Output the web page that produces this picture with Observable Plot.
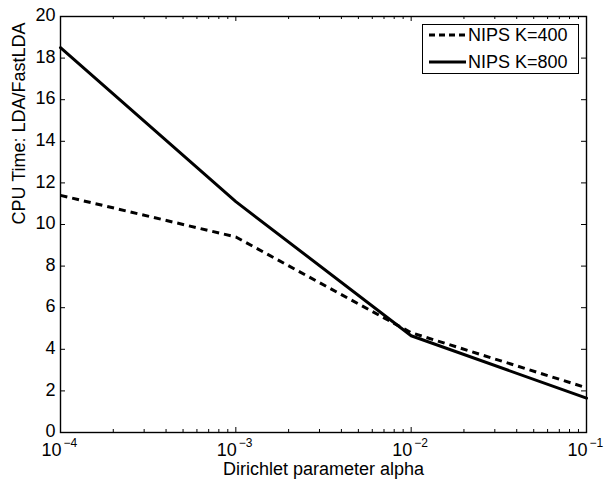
<!DOCTYPE html>
<html><head><meta charset="utf-8">
<script src="https://cdn.jsdelivr.net/npm/d3@7"></script>
<script src="https://cdn.jsdelivr.net/npm/@observablehq/plot@0.6"></script>
<style>
body{margin:0;background:#fff;font-family:"Liberation Sans",Arial,sans-serif;}
#wrap{position:relative;width:605px;height:483px;}
#legend{position:absolute;left:422px;top:24px;width:157px;height:50px;border:1.3px solid #000;background:#fff;box-sizing:border-box;font-size:18px;}
#legend .row{position:absolute;left:6px;height:20px;display:flex;align-items:center;}
#legend svg{display:block;}
#legend span{margin-left:2px;line-height:20px;}
</style></head><body><div id="wrap"></div>
<script>
const alpha = [1e-4, 1e-3, 1e-2, 1e-1];
const seriesNames = ["NIPS K=400", "NIPS K=800"];
const k400 = [11.4, 9.4, 4.8, 2.15];
const k800 = [18.5, 11.1, 4.65, 1.65];
const yTicks = [0, 2, 4, 6, 8, 10, 12, 14, 16, 18, 20];
const xMajor = [1e-4, 1e-3, 1e-2, 1e-1];
const xExponents = ["\u22124", "\u22123", "\u22122", "\u22121"];
const xLabel = "Dirichlet parameter alpha";
const yLabel = "CPU Time: LDA/FastLDA";

const xMinor = [];
for (const d of [1e-4, 1e-3, 1e-2]) for (let m = 2; m <= 9; m++) xMinor.push(d * m);

const rows400 = alpha.map((a, i) => ({alpha: a, value: k400[i]}));
const rows800 = alpha.map((a, i) => ({alpha: a, value: k800[i]}));

const W = 605, H = 483, mL = 60, mR = 19, mT = 16, mB = 51;
const pw = W - mL - mR, ph = H - mT - mB;
const tick = 5, minor = 3;
const font = "Liberation Sans, Arial, sans-serif";

const chart = Plot.plot({
  width: W, height: H,
  marginLeft: mL, marginRight: mR, marginTop: mT, marginBottom: mB,
  style: {fontFamily: font, fontSize: "18px", background: "#fff", color: "#000"},
  x: {type: "log", domain: [1e-4, 1e-1], axis: null},
  y: {domain: [0, 20], axis: null},
  marks: [
    Plot.line(rows400, {x: "alpha", y: "value", stroke: "#000", strokeWidth: 3, strokeDasharray: "7,5", strokeLinecap: "butt"}),
    Plot.line(rows800, {x: "alpha", y: "value", stroke: "#000", strokeWidth: 3}),
    Plot.tickX(xMajor, {x: d => d, insetTop: ph - tick, stroke: "#000", strokeWidth: 1}),
    Plot.tickX(xMajor, {x: d => d, insetBottom: ph - tick, stroke: "#000", strokeWidth: 1}),
    Plot.tickX(xMinor, {x: d => d, insetTop: ph - minor, stroke: "#000", strokeWidth: 1}),
    Plot.tickX(xMinor, {x: d => d, insetBottom: ph - minor, stroke: "#000", strokeWidth: 1}),
    Plot.tickY(yTicks, {y: d => d, insetRight: pw - tick, stroke: "#000", strokeWidth: 1}),
    Plot.tickY(yTicks, {y: d => d, insetLeft: pw - tick, stroke: "#000", strokeWidth: 1}),
    Plot.frame({stroke: "#000", strokeWidth: 1.4}),
    Plot.text(yTicks, {y: d => d, frameAnchor: "left", dx: -5, dy: -1, textAnchor: "end", text: d => String(d), fontSize: 18, fill: "#000"}),
    Plot.text(xMajor, {x: d => d, frameAnchor: "bottom", dy: 23, dx: 1, textAnchor: "end", text: () => "10", fontSize: 18, fill: "#000"}),
    Plot.text(xMajor, {x: d => d, frameAnchor: "bottom", dy: 14, dx: 3, textAnchor: "start", text: (d, i) => xExponents[i], fontSize: 12, fill: "#000"}),
    Plot.text([xLabel], {frameAnchor: "bottom", dy: 42, text: d => d, fontSize: 18, fill: "#000"}),
    Plot.text([yLabel], {frameAnchor: "left", dx: -41, rotate: -90, text: d => d, fontSize: 18, fill: "#000"})
  ]
});
const wrap = document.getElementById("wrap");
wrap.appendChild(chart);

const legend = document.createElement("div");
legend.id = "legend";
const styles = [{dash: "6,4"}, {dash: null}];
seriesNames.forEach((name, i) => {
  const row = document.createElement("div");
  row.className = "row";
  row.style.top = (i === 0 ? 0 : 27) + "px";
  const ns = "http://www.w3.org/2000/svg";
  const svg = document.createElementNS(ns, "svg");
  svg.setAttribute("width", 37); svg.setAttribute("height", 20);
  const ln = document.createElementNS(ns, "line");
  ln.setAttribute("x1", 0); ln.setAttribute("x2", 37);
  ln.setAttribute("y1", 10); ln.setAttribute("y2", 10);
  ln.setAttribute("stroke", "#000"); ln.setAttribute("stroke-width", 3);
  if (styles[i].dash) ln.setAttribute("stroke-dasharray", styles[i].dash);
  svg.appendChild(ln);
  const span = document.createElement("span");
  span.textContent = name;
  row.appendChild(svg); row.appendChild(span);
  legend.appendChild(row);
});
wrap.appendChild(legend);
</script></body></html>
